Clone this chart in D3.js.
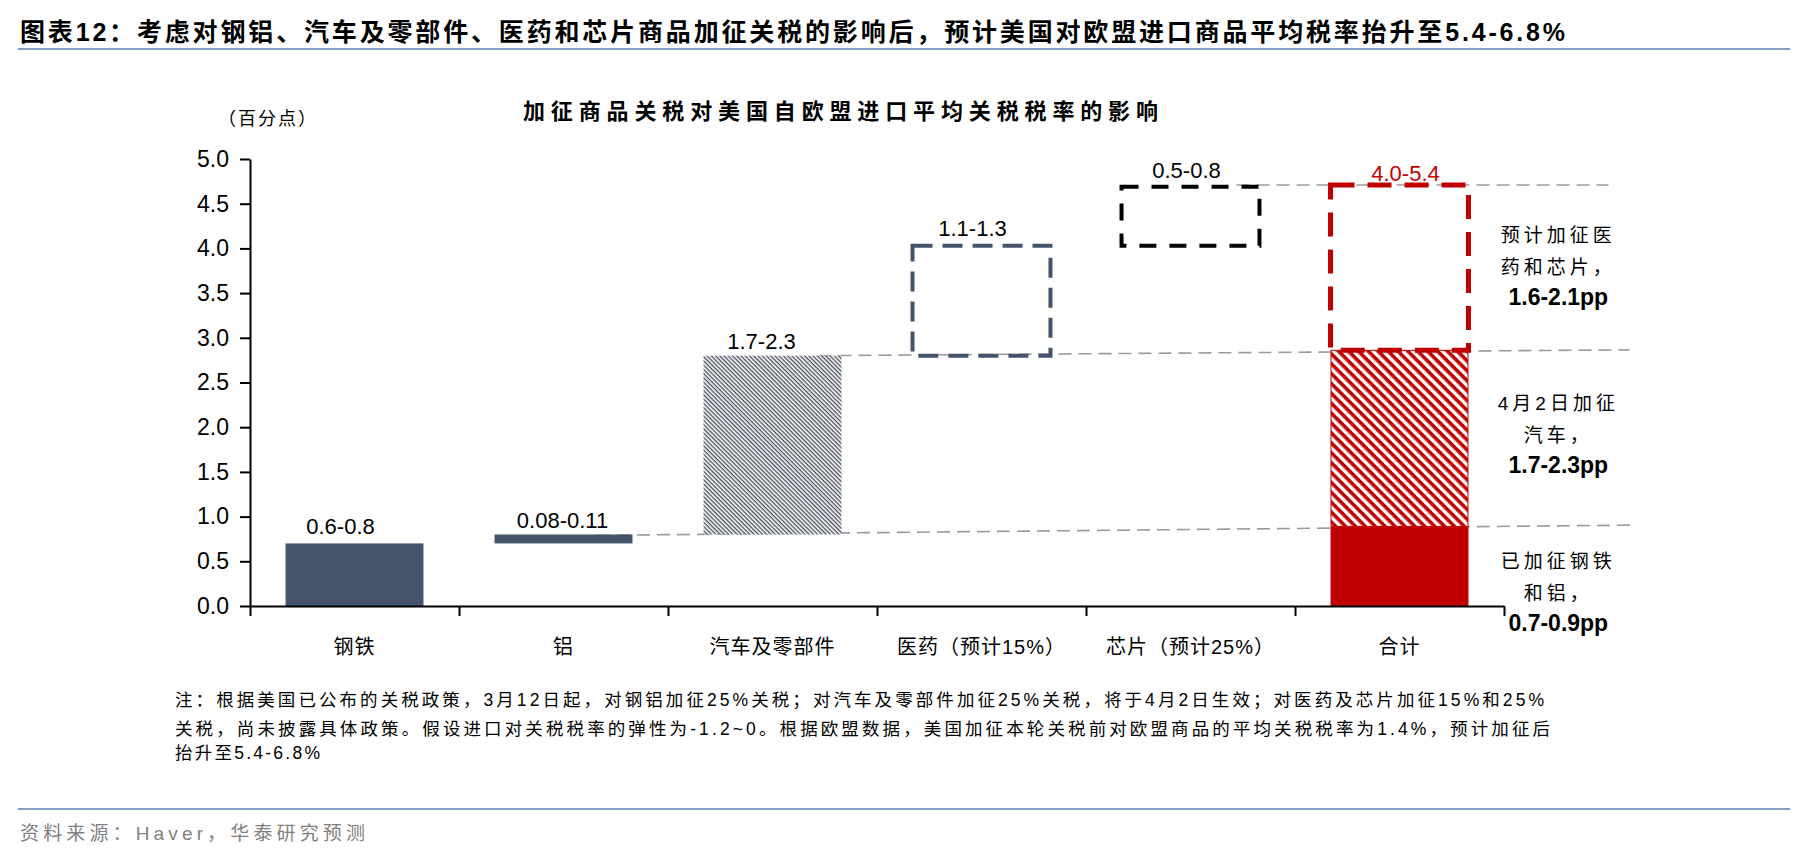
<!DOCTYPE html>
<html>
<head>
<meta charset="utf-8">
<script src="https://cdn.jsdelivr.net/npm/d3@7/dist/d3.min.js"></script>
<style>
  html, body { margin: 0; padding: 0; background: #fff; }
  svg { display: block; }
  text { font-family: "Liberation Sans", Arial, "Noto Sans CJK SC", sans-serif; }
</style>
</head>
<body>
<svg id="chart" width="1802" height="866"></svg>
<script>
// ---------- data ----------
const categories = ["钢铁", "铝", "汽车及零部件", "医药（预计15%）", "芯片（预计25%）", "合计"];
// floating bars (first five categories): bottom and top values, percentage points
const barLow  = [0.00, 0.70, 0.80, 2.80, 4.03];
const barHigh = [0.70, 0.80, 2.80, 4.03, 4.69];
// total bar stacked segments: steel+aluminium, autos, pharma+chips
const totalLow  = [0.00, 0.89, 2.86];
const totalHigh = [0.89, 2.86, 4.71];
const barLabels = ["0.6-0.8", "0.08-0.11", "1.7-2.3", "1.1-1.3", "0.5-0.8", "4.0-5.4"];
const yTicks = [0.0, 0.5, 1.0, 1.5, 2.0, 2.5, 3.0, 3.5, 4.0, 4.5, 5.0];
// grey dashed guide lines: start value, end value
const guideFrom = [0.79, 2.80, 4.71];
const guideTo   = [0.905, 2.865, 4.71];
const sideNotes = [
  ["预计加征医", "药和芯片，", "1.6-2.1pp"],
  ["4月2日加征", "汽车，", "1.7-2.3pp"],
  ["已加征钢铁", "和铝，", "0.7-0.9pp"]
];
const titleText = "图表12：考虑对钢铝、汽车及零部件、医药和芯片商品加征关税的影响后，预计美国对欧盟进口商品平均税率抬升至5.4-6.8%";
const chartTitle = "加征商品关税对美国自欧盟进口平均关税税率的影响";
const unitText = "（百分点）";
const noteLines = [
  "注：根据美国已公布的关税政策，3月12日起，对钢铝加征25%关税；对汽车及零部件加征25%关税，将于4月2日生效；对医药及芯片加征15%和25%",
  "关税，尚未披露具体政策。假设进口对关税税率的弹性为-1.2~0。根据欧盟数据，美国加征本轮关税前对欧盟商品的平均关税税率为1.4%，预计加征后",
  "抬升至5.4-6.8%"
];
const sourceText = "资料来源：Haver，华泰研究预测";

// ---------- layout ----------
const svg = d3.select("#chart");
const X0 = 250, X1 = 1504, Y0 = 606, Y5 = 159;
const x = d3.scaleBand().domain(categories).range([X0, X1]).paddingInner(0.34).paddingOuter(0.17);
const xb = d3.scaleLinear().domain([0, categories.length]).range([X0, X1]);
const y = d3.scaleLinear().domain([0, 5]).range([Y0, Y5]);
const bw = x.bandwidth();
const step = x.step();

const steel = "#44546A", red = "#C00000";

svg.append("rect").attr("width", 1802).attr("height", 866).attr("fill", "#fff");

// patterns
const defs = svg.append("defs");
const p1 = defs.append("pattern").attr("id", "carHatch").attr("patternUnits", "userSpaceOnUse")
  .attr("width", 3).attr("height", 3).attr("patternTransform", "rotate(45)");
p1.append("rect").attr("width", 3).attr("height", 3).attr("fill", "#fff");
p1.append("rect").attr("width", 3).attr("height", 1.4).attr("fill", "#4d5360");
const p2 = defs.append("pattern").attr("id", "redHatch").attr("patternUnits", "userSpaceOnUse")
  .attr("width", 7).attr("height", 7).attr("patternTransform", "rotate(45)");
p2.append("rect").attr("width", 7).attr("height", 7).attr("fill", "#fff");
p2.append("rect").attr("width", 7).attr("height", 3.6).attr("fill", red);

// ---------- header ----------
svg.append("text").attr("x", 20).attr("y", 41)
  .attr("font-size", 25).attr("font-weight", "bold").attr("fill", "#000")
  .attr("textLength", 1545).attr("lengthAdjust", "spacing")
  .text(titleText);
svg.append("line").attr("x1", 18).attr("x2", 1790).attr("y1", 49).attr("y2", 49)
  .attr("stroke", "#5C7FB5").attr("stroke-width", 1.5);

svg.append("text").attr("x", 523).attr("y", 119)
  .attr("font-size", 22).attr("font-weight", "bold")
  .attr("textLength", 635).attr("lengthAdjust", "spacing")
  .text(chartTitle);
svg.append("text").attr("x", 218).attr("y", 125)
  .attr("font-size", 18).attr("textLength", 98).attr("lengthAdjust", "spacing")
  .text(unitText);

// ---------- guide lines ----------
const guideStart = [xb(1) + 0.66 * step, xb(2) + 0.72 * step, xb(4) + 0.72 * step];
const guideEnd = [xb(5) + 1.62 * step, xb(5) + 1.60 * step, xb(5) + 1.50 * step];
svg.append("g").selectAll("line").data(guideFrom).join("line")
  .attr("x1", (d, i) => guideStart[i]).attr("x2", (d, i) => guideEnd[i])
  .attr("y1", d => y(d)).attr("y2", (d, i) => y(guideTo[i]))
  .attr("stroke", "#9a9a9a").attr("stroke-width", 1.6).attr("stroke-dasharray", "13,7");

// ---------- bars ----------
const g = svg.append("g");
// steel & aluminium: solid
[0, 1].forEach(i => {
  g.append("rect").attr("x", x(categories[i])).attr("width", bw)
    .attr("y", y(barHigh[i])).attr("height", y(barLow[i]) - y(barHigh[i]))
    .attr("fill", steel);
});
// autos: hatched
g.append("rect").attr("x", x(categories[2])).attr("width", bw)
  .attr("y", y(barHigh[2])).attr("height", y(barLow[2]) - y(barHigh[2]))
  .attr("fill", "url(#carHatch)");
// pharma: dashed box
g.append("rect").attr("x", x(categories[3])).attr("width", bw)
  .attr("y", y(barHigh[3])).attr("height", y(barLow[3]) - y(barHigh[3]))
  .attr("fill", "none").attr("stroke", steel).attr("stroke-width", 4).attr("stroke-dasharray", "20,10");
// chips: dashed box
g.append("rect").attr("x", x(categories[4])).attr("width", bw)
  .attr("y", y(barHigh[4])).attr("height", y(barLow[4]) - y(barHigh[4]))
  .attr("fill", "none").attr("stroke", "#000").attr("stroke-width", 4).attr("stroke-dasharray", "17,13");
// total
const tx = x(categories[5]);
g.append("rect").attr("x", tx).attr("width", bw)
  .attr("y", y(totalHigh[0])).attr("height", y(totalLow[0]) - y(totalHigh[0])).attr("fill", red);
g.append("rect").attr("x", tx + 0.5).attr("width", bw - 1)
  .attr("y", y(totalHigh[1])).attr("height", y(totalLow[1]) - y(totalHigh[1]))
  .attr("fill", "url(#redHatch)").attr("stroke", red).attr("stroke-width", 1);
g.append("rect").attr("x", tx).attr("width", bw)
  .attr("y", y(totalHigh[2])).attr("height", y(totalLow[2]) - y(totalHigh[2]))
  .attr("fill", "none").attr("stroke", red).attr("stroke-width", 5).attr("stroke-dasharray", "24,13");

// ---------- bar labels ----------
const tops = barHigh.concat([totalHigh[2]]);
const labelDx = [-14, -1, -11, -9, -4, 6];
const labelDy = [-9, -6.5, -7, -10, -8.5, -4];
svg.append("g").selectAll("text").data(barLabels).join("text")
  .attr("x", (d, i) => x(categories[i]) + bw / 2 + labelDx[i])
  .attr("y", (d, i) => y(tops[i]) + labelDy[i])
  .attr("text-anchor", "middle").attr("font-size", 22)
  .attr("fill", (d, i) => i === 5 ? red : "#000")
  .text(d => d);

// ---------- axes ----------
const yAxis = svg.append("g").attr("transform", `translate(${X0},0)`)
  .call(d3.axisLeft(y).tickValues(yTicks).tickFormat(d3.format(".1f")).tickSize(10).tickSizeOuter(0).tickPadding(11));
const xAxis = svg.append("g").attr("transform", `translate(0,${Y0})`)
  .call(d3.axisBottom(xb).tickValues(d3.range(categories.length + 1)).tickFormat("").tickSize(10).tickSizeOuter(0));
[yAxis, xAxis].forEach(a => {
  a.selectAll("path, line").attr("stroke", "#000").attr("stroke-width", 2);
  a.selectAll("text").attr("font-size", 23).attr("fill", "#000")
    .attr("font-family", '"Liberation Sans", Arial, sans-serif');
});

svg.append("g").selectAll("text").data(categories).join("text")
  .attr("x", d => x(d) + bw / 2).attr("y", 654)
  .attr("text-anchor", "middle").attr("font-size", 20).attr("letter-spacing", 1)
  .attr("font-family", '"Liberation Sans", "Noto Sans CJK SC", sans-serif')
  .text(d => d);

// ---------- side notes ----------
const noteX = xb(5) + 1.26 * step;
const noteBase = [[242, 274, 305], [410, 442, 473], [568, 600, 631]];
sideNotes.forEach((lines, k) => {
  lines.forEach((t, j) => {
    const bold = j === 2;
    svg.append("text").attr("x", noteX).attr("y", noteBase[k][j])
      .attr("text-anchor", "middle")
      .attr("font-size", bold ? 23 : 19)
      .attr("font-weight", bold ? "bold" : "normal")
      .attr("letter-spacing", bold ? 0 : 4)
      .text(t);
  });
});

// ---------- footnote ----------
const noteLen = [1369, 1375, 145];
const noteY = [706, 735, 759];
noteLines.forEach((t, i) => {
  svg.append("text").attr("x", 175).attr("y", noteY[i])
    .attr("font-size", 17.5).attr("textLength", noteLen[i]).attr("lengthAdjust", "spacing")
    .text(t);
});
svg.append("line").attr("x1", 18).attr("x2", 1790).attr("y1", 809).attr("y2", 809)
  .attr("stroke", "#5C7FB5").attr("stroke-width", 1.5);
svg.append("text").attr("x", 20).attr("y", 840)
  .attr("font-size", 19).attr("fill", "#7f7f7f")
  .attr("textLength", 345).attr("lengthAdjust", "spacing")
  .text(sourceText);
</script>
</body>
</html>
